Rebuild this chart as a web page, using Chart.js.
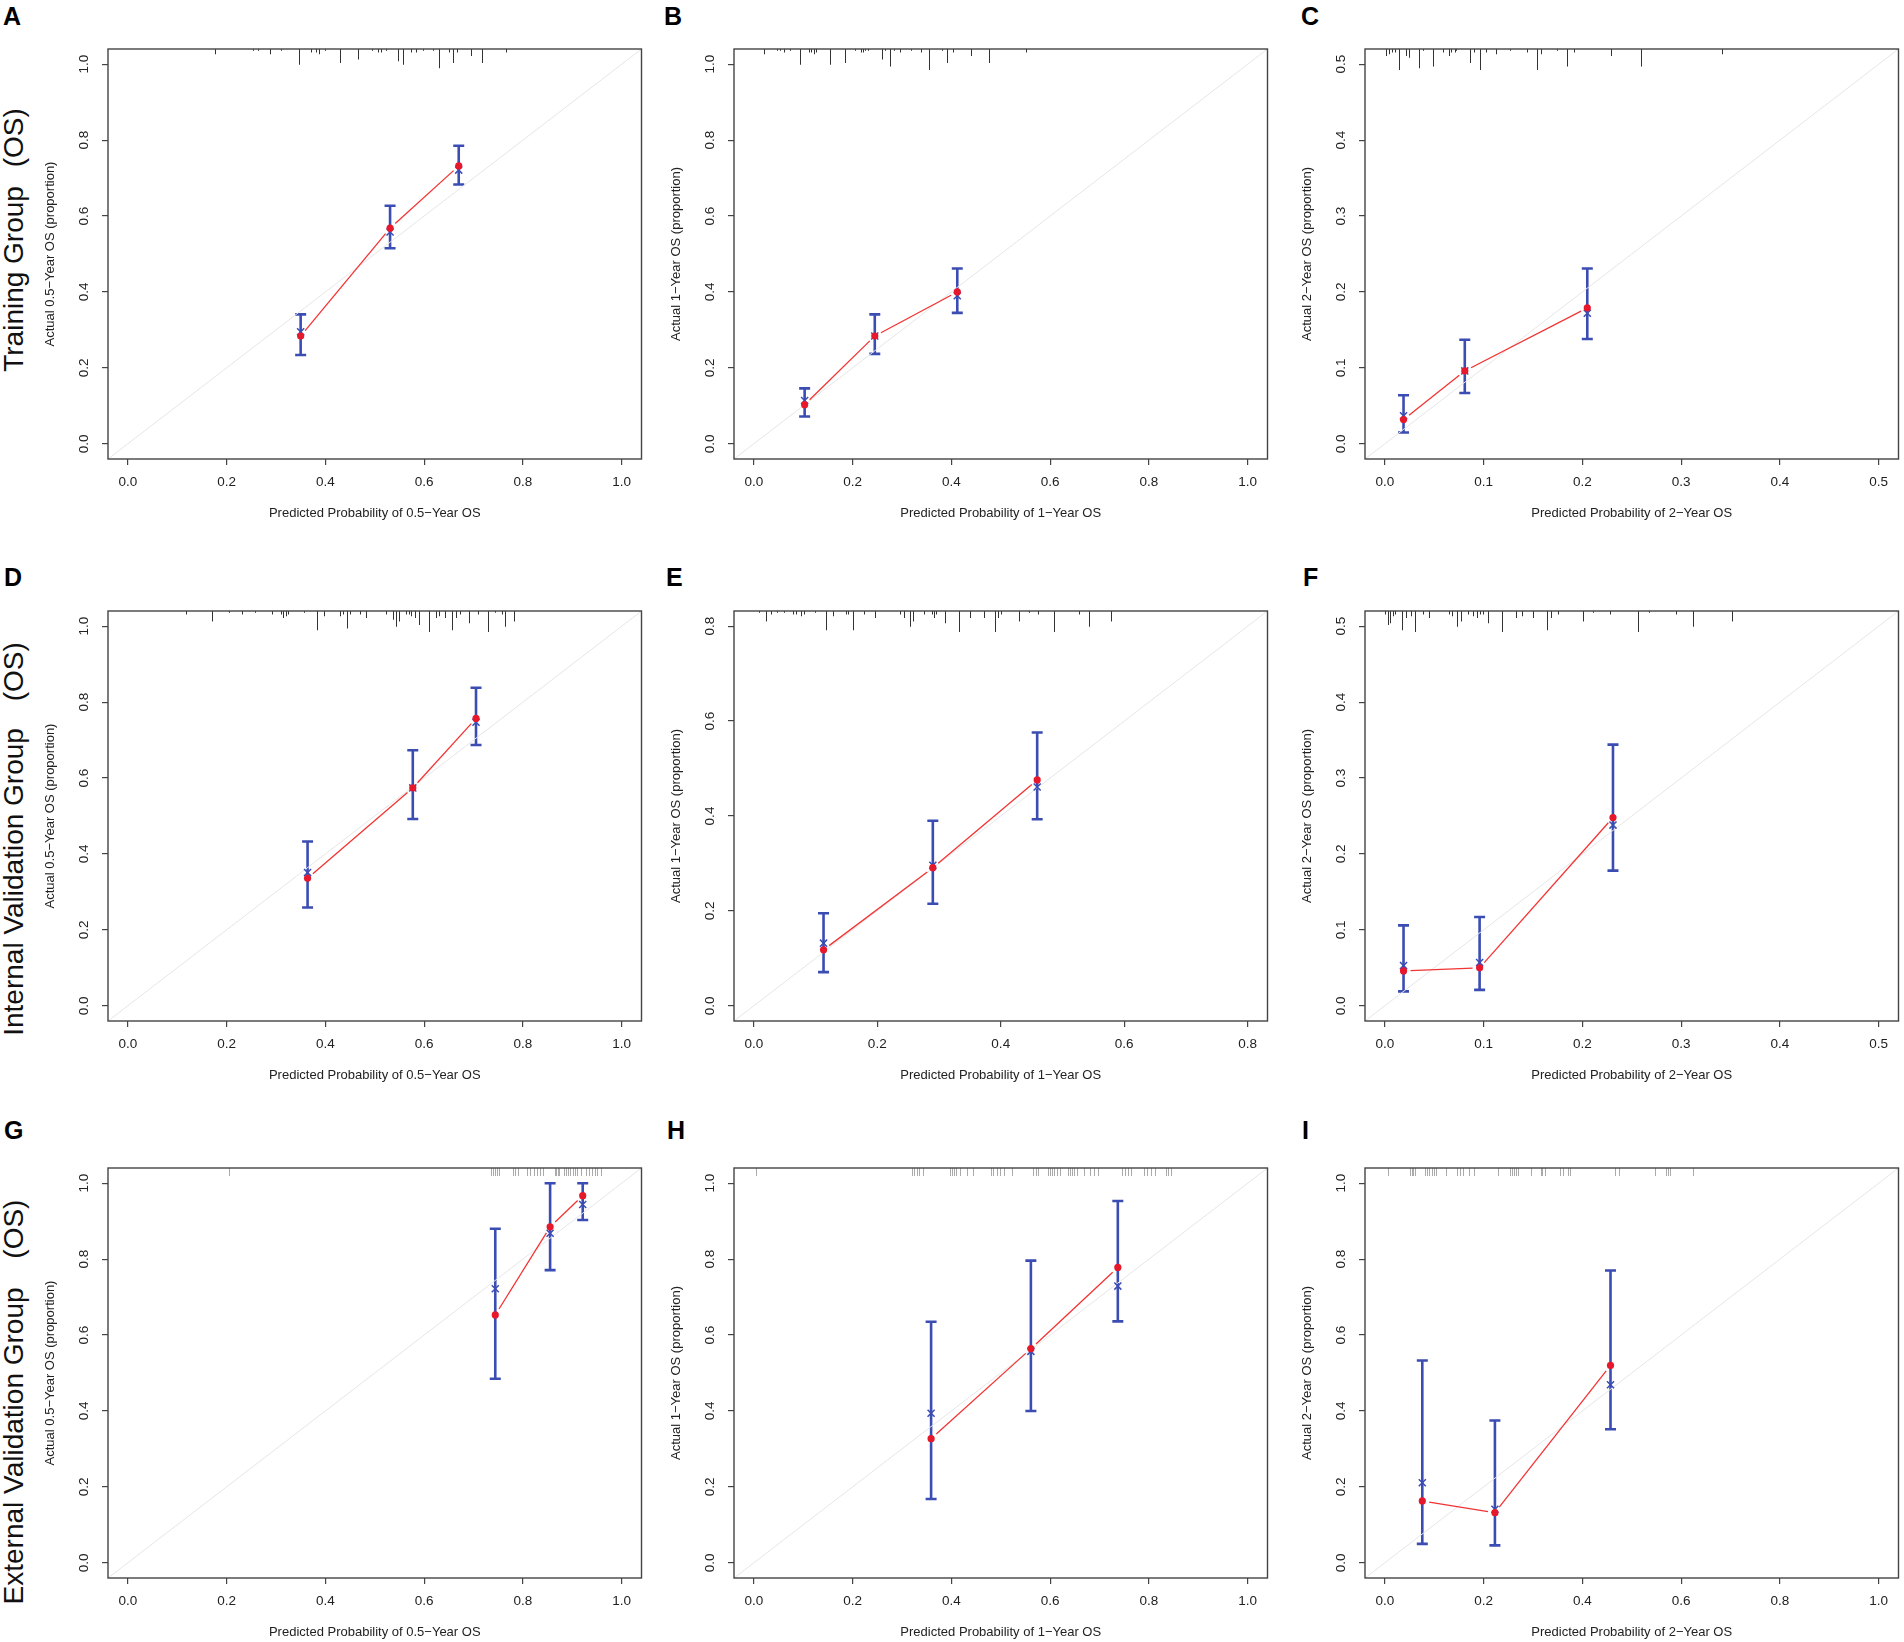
<!DOCTYPE html>
<html>
<head>
<meta charset="utf-8">
<script src="https://cdn.jsdelivr.net/npm/chart.js@4.4.1/dist/chart.umd.min.js"></script>
<style>
html, body { margin: 0; padding: 0; background: #fff; overflow: hidden; }
body { width: 1904px; height: 1642px; position: relative; font-family: "Liberation Sans", Arial, sans-serif; }
canvas { position: absolute; }
.letter { position: absolute; font-weight: bold; font-size: 25px; line-height: 25px; color: #000; }
.group { position: absolute; font-size: 28px; line-height: 28px; white-space: pre; color: #111;
         transform: translate(-50%, -50%) rotate(-90deg); }
</style>
</head>
<body>
<div class="letter" style="left:3px;top:4px">A</div>
<div class="letter" style="left:664px;top:4px">B</div>
<div class="letter" style="left:1301px;top:4px">C</div>
<div class="letter" style="left:4px;top:565px">D</div>
<div class="letter" style="left:666px;top:565px">E</div>
<div class="letter" style="left:1303px;top:565px">F</div>
<div class="letter" style="left:4px;top:1118px">G</div>
<div class="letter" style="left:667px;top:1118px">H</div>
<div class="letter" style="left:1302px;top:1118px">I</div>

<div class="group" style="left:14px;top:240px">Training Group <span style="margin-left:11px">(OS)</span></div>
<div class="group" style="left:14px;top:839px">Internal Validation Group <span style="margin-left:19px">(OS)</span></div>
<div class="group" style="left:14px;top:1402px">External Validation Group <span style="margin-left:21px">(OS)</span></div>

<script>
// tick labels
const ticks10 = [0, 0.2, 0.4, 0.6, 0.8, 1.0];
const ticks08 = [0, 0.2, 0.4, 0.6, 0.8];
const ticks05 = [0, 0.1, 0.2, 0.3, 0.4, 0.5];

const xTitles = ["Predicted Probability of 0.5\u2212Year OS", "Predicted Probability of 1\u2212Year OS", "Predicted Probability of 2\u2212Year OS"];
const yTitles = ["Actual 0.5\u2212Year OS (proportion)", "Actual 1\u2212Year OS (proportion)", "Actual 2\u2212Year OS (proportion)"];

// A: training, 0.5 year
const predA = [0.350, 0.531, 0.670];
const obsA = [0.284, 0.568, 0.732];
const corA = [0.295, 0.558, 0.721];
const loA = [0.234, 0.515, 0.683];
const hiA = [0.341, 0.627, 0.785];
const rugXA = [0.176, 0.253, 0.263, 0.288, 0.311, 0.347, 0.371, 0.381, 0.388, 0.399, 0.429, 0.466, 0.494, 0.507, 0.512,
  0.523, 0.547, 0.558, 0.573, 0.584, 0.598, 0.617, 0.630, 0.650, 0.659, 0.667, 0.694, 0.718, 0.766];
const rugNA = [3, 1, 1, 3, 1, 9, 2, 2, 3, 1, 8, 6, 1, 2, 2, 1, 7, 9, 2, 2, 1, 1, 11, 2, 8, 2, 4, 8, 2];

// B: training, 1 year
const predB = [0.103, 0.245, 0.412];
const obsB = [0.103, 0.284, 0.400];
const corB = [0.114, 0.284, 0.390];
const loB = [0.072, 0.237, 0.345];
const hiB = [0.146, 0.341, 0.462];
const rugXB = [0.021, 0.048, 0.053, 0.062, 0.074, 0.094, 0.111, 0.115, 0.121, 0.126, 0.154, 0.185, 0.205, 0.217, 0.221,
  0.226, 0.232, 0.259, 0.265, 0.276, 0.284, 0.296, 0.318, 0.338, 0.355, 0.382, 0.391, 0.403, 0.440, 0.477, 0.551];
const rugNB = [3, 1, 1, 2, 1, 9, 2, 2, 3, 2, 9, 8, 1, 2, 2, 1, 1, 6, 1, 10, 1, 2, 1, 2, 12, 1, 8, 2, 4, 8, 2];

// C: training, 2 year
const predC = [0.019, 0.081, 0.205];
const obsC = [0.032, 0.096, 0.179];
const corC = [0.037, 0.096, 0.172];
const loC = [0.015, 0.067, 0.138];
const hiC = [0.064, 0.137, 0.231];
const rugXC = [0.0016, 0.0044, 0.0072, 0.0108, 0.0144, 0.0216, 0.0248, 0.0348, 0.0388, 0.0484, 0.0592, 0.0647, 0.0675,
  0.0707, 0.0723, 0.0859, 0.0899, 0.0963, 0.1027, 0.1131, 0.1267, 0.1435, 0.1539, 0.1579, 0.1747, 0.1847, 0.1914,
  0.2290, 0.2594, 0.3417];
const rugNC = [4, 3, 2, 2, 12, 4, 5, 11, 1, 10, 2, 4, 2, 2, 1, 8, 2, 12, 2, 3, 1, 2, 12, 3, 1, 10, 2, 4, 10, 3];

// D: internal validation, 0.5 year
const predD = [0.364, 0.577, 0.705];
const obsD = [0.336, 0.574, 0.757];
const corD = [0.351, 0.574, 0.747];
const loD = [0.259, 0.492, 0.687];
const hiD = [0.433, 0.673, 0.838];
const rugXD = [0.118, 0.171, 0.205, 0.231, 0.258, 0.291, 0.310, 0.315, 0.320, 0.324, 0.357, 0.383, 0.397, 0.430, 0.435,
  0.443, 0.450, 0.471, 0.483, 0.523, 0.536, 0.543, 0.549, 0.563, 0.570, 0.574, 0.581, 0.590, 0.610, 0.624,
  0.631, 0.643, 0.656, 0.665, 0.672, 0.690, 0.710, 0.730, 0.743, 0.757, 0.763, 0.782];
const rugND = [2, 6, 1, 2, 1, 2, 2, 4, 3, 2, 1, 11, 3, 3, 2, 10, 2, 2, 4, 2, 5, 9, 6, 2, 2, 3, 4, 8, 12, 4,
  3, 4, 11, 4, 2, 7, 2, 12, 1, 2, 9, 6];

// E: internal validation, 1 year
const predE = [0.113, 0.290, 0.459];
const obsE = [0.118, 0.291, 0.476];
const corE = [0.132, 0.296, 0.461];
const loE = [0.071, 0.215, 0.393];
const hiE = [0.195, 0.390, 0.576];
const rugXE = [0.0085, 0.0197, 0.0275, 0.0374, 0.0485, 0.0643, 0.0682, 0.0761, 0.0813, 0.0984, 0.1167, 0.1279, 0.1495,
  0.1528, 0.1613, 0.1784, 0.1961, 0.2361, 0.2426, 0.2531, 0.2577, 0.2754, 0.2885, 0.2918, 0.2957, 0.3102, 0.3325,
  0.3495, 0.3725, 0.3902, 0.3948, 0.4000, 0.4302, 0.4459, 0.4597, 0.4866, 0.5266, 0.5436, 0.5784];
const rugNE = [1, 6, 2, 1, 1, 2, 2, 3, 2, 1, 11, 3, 2, 2, 11, 2, 4, 2, 4, 9, 6, 2, 2, 4, 2, 7, 12, 4, 4, 12,
  4, 2, 6, 1, 2, 12, 2, 9, 6];

// F: internal validation, 2 year
const predF = [0.019, 0.096, 0.231];
const obsF = [0.046, 0.050, 0.248];
const corF = [0.053, 0.057, 0.238];
const loF = [0.019, 0.021, 0.178];
const hiF = [0.106, 0.117, 0.344];
const rugXF = [0.0, 0.0028, 0.0052, 0.0080, 0.0104, 0.0172, 0.0212, 0.0264, 0.0308, 0.0384, 0.0452, 0.0647, 0.0683,
  0.0735, 0.0771, 0.0839, 0.0891, 0.0935, 0.0963, 0.0991, 0.1043, 0.1187, 0.1331, 0.1391, 0.1503, 0.1643, 0.1683,
  0.1755, 0.2002, 0.2106, 0.2278, 0.2562, 0.2674, 0.2946, 0.3125, 0.3513];
const rugNF = [2, 8, 7, 3, 2, 11, 4, 3, 12, 2, 4, 2, 3, 9, 6, 2, 3, 4, 2, 2, 7, 12, 4, 3, 4, 11, 4, 2, 6, 1,
  2, 12, 1, 2, 9, 6];

// G: external validation, 0.5 year
const predG = [0.744, 0.855, 0.921];
const obsG = [0.653, 0.885, 0.967];
const corG = [0.722, 0.868, 0.944];
const loG = [0.485, 0.771, 0.903];
const hiG = [0.880, 1.000, 1.000];
const rugXG = [0.205, 0.735, 0.739, 0.743, 0.748, 0.752, 0.779, 0.784, 0.790, 0.808, 0.815, 0.822, 0.828, 0.834, 0.841,
  0.864, 0.867, 0.871, 0.874, 0.883, 0.888, 0.892, 0.896, 0.901, 0.906, 0.910, 0.918, 0.928, 0.934, 0.940,
  0.945, 0.950, 0.959];

// H: external validation, 1 year
const predH = [0.359, 0.561, 0.737];
const obsH = [0.327, 0.564, 0.778];
const corH = [0.394, 0.557, 0.729];
const loH = [0.168, 0.400, 0.636];
const hiH = [0.635, 0.796, 0.953];
const rugXH = [0.004, 0.321, 0.325, 0.330, 0.334, 0.342, 0.398, 0.402, 0.406, 0.410, 0.417, 0.431, 0.444, 0.480, 0.484,
  0.492, 0.499, 0.506, 0.522, 0.566, 0.571, 0.575, 0.596, 0.600, 0.604, 0.608, 0.613, 0.619, 0.636, 0.641,
  0.645, 0.649, 0.655, 0.669, 0.680, 0.689, 0.697, 0.745, 0.751, 0.758, 0.764, 0.791, 0.797, 0.805, 0.813,
  0.834, 0.839, 0.844];

// I: external validation, 2 year
const predI = [0.076, 0.223, 0.457];
const obsI = [0.163, 0.132, 0.520];
const corI = [0.211, 0.141, 0.469];
const loI = [0.050, 0.046, 0.352];
const hiI = [0.533, 0.375, 0.770];
const rugXI = [0.006, 0.051, 0.055, 0.058, 0.062, 0.081, 0.085, 0.090, 0.095, 0.100, 0.104, 0.124, 0.146, 0.152, 0.159,
  0.170, 0.181, 0.230, 0.254, 0.258, 0.262, 0.266, 0.270, 0.296, 0.316, 0.319, 0.325, 0.355, 0.361, 0.371,
  0.376, 0.467, 0.475, 0.547, 0.569, 0.573, 0.577, 0.624];

// layout of the 3x3 grid (plot frame positions in page pixels)
const frameLeft = [108, 734, 1365];
const frameTop = [49, 611, 1168];
const FRAME_W = 534, FRAME_H = 410;
const PAD_L = 70, PAD_T = 10, PAD_R = 6, PAD_B = 80;
const LINE_GAP = 7; // R type="b": the line stops short of each point

const panels = [
  { pred: predA, obs: obsA, cor: corA, lo: loA, hi: hiA, rugX: rugXA, rugN: rugNA, xt: ticks10, yt: ticks10 },
  { pred: predB, obs: obsB, cor: corB, lo: loB, hi: hiB, rugX: rugXB, rugN: rugNB, xt: ticks10, yt: ticks10 },
  { pred: predC, obs: obsC, cor: corC, lo: loC, hi: hiC, rugX: rugXC, rugN: rugNC, xt: ticks05, yt: ticks05 },
  { pred: predD, obs: obsD, cor: corD, lo: loD, hi: hiD, rugX: rugXD, rugN: rugND, xt: ticks10, yt: ticks10 },
  { pred: predE, obs: obsE, cor: corE, lo: loE, hi: hiE, rugX: rugXE, rugN: rugNE, xt: ticks08, yt: ticks08 },
  { pred: predF, obs: obsF, cor: corF, lo: loF, hi: hiF, rugX: rugXF, rugN: rugNF, xt: ticks05, yt: ticks05 },
  { pred: predG, obs: obsG, cor: corG, lo: loG, hi: hiG, rugX: rugXG, rugN: null, xt: ticks10, yt: ticks10 },
  { pred: predH, obs: obsH, cor: corH, lo: loH, hi: hiH, rugX: rugXH, rugN: null, xt: ticks10, yt: ticks10 },
  { pred: predI, obs: obsI, cor: corI, lo: loI, hi: hiI, rugX: rugXI, rugN: null, xt: ticks10, yt: ticks10 }
];

Chart.defaults.font.family = '"Liberation Sans", Arial, sans-serif';
Chart.defaults.color = "#222";

const BLUE = "#3b4db3";
const RED = "#f23333";

// R-style extent: 4% beyond the data range
function limits(ticks) {
  const top = ticks[ticks.length - 1];
  return [-0.04 * top, 1.04 * top];
}

function makePanel(p, idx) {
  const col = idx % 3, row = Math.floor(idx / 3);
  const canvas = document.createElement("canvas");
  canvas.width = PAD_L + FRAME_W + PAD_R;
  canvas.height = PAD_T + FRAME_H + PAD_B;
  canvas.style.left = (frameLeft[col] - PAD_L) + "px";
  canvas.style.top = (frameTop[row] - PAD_T) + "px";
  document.body.appendChild(canvas);

  const [xMin, xMax] = limits(p.xt);
  const [yMin, yMax] = limits(p.yt);

  // frame, rug and error bars
  const calPlugin = {
    id: "cal" + idx,
    beforeDatasetsDraw(chart) {
      const { ctx, chartArea: a, scales: { x, y } } = chart;
      ctx.save();
      // error bars
      ctx.strokeStyle = BLUE;
      ctx.lineWidth = 2.6;
      p.pred.forEach((v, i) => {
        const px = x.getPixelForValue(v);
        const y1 = y.getPixelForValue(p.lo[i]);
        const y2 = y.getPixelForValue(p.hi[i]);
        ctx.beginPath();
        ctx.moveTo(px, y1); ctx.lineTo(px, y2);
        ctx.moveTo(px - 5.5, y1); ctx.lineTo(px + 5.5, y1);
        ctx.moveTo(px - 5.5, y2); ctx.lineTo(px + 5.5, y2);
        ctx.stroke();
      });
      // rug along the top
      ctx.lineWidth = 1;
      ctx.strokeStyle = p.rugN ? "#333" : "#aaaaaa";
      p.rugX.forEach((v, i) => {
        const px = Math.round(x.getPixelForValue(v)) + 0.5;
        const len = p.rugN ? p.rugN[i] * 1.75 : 8;
        ctx.beginPath();
        ctx.moveTo(px, a.top);
        ctx.lineTo(px, a.top + len);
        ctx.stroke();
      });
      ctx.restore();
    },
    afterDraw(chart) {
      const { ctx, chartArea: a } = chart;
      ctx.save();
      ctx.strokeStyle = "#444";
      ctx.lineWidth = 1.4;
      ctx.strokeRect(a.left, a.top, a.right - a.left, a.bottom - a.top);
      ctx.restore();
    }
  };

  new Chart(canvas, {
    type: "scatter",
    data: {
      datasets: [
        {
          type: "line",
          data: p.obs.map((v, i) => ({ x: p.pred[i], y: v })),
          borderColor: RED,
          borderWidth: 1.3,
          pointRadius: 3.6,
          pointBackgroundColor: "#e8182c",
          pointBorderWidth: 0,
          segment: {
            borderDash: c => {
              const len = Math.hypot(c.p1.x - c.p0.x, c.p1.y - c.p0.y);
              return [0, LINE_GAP, Math.max(len - 2 * LINE_GAP, 0), LINE_GAP + 2000];
            }
          },
          order: 1
        },
        {
          data: p.cor.map((v, i) => ({ x: p.pred[i], y: v })),
          pointStyle: "crossRot",
          pointRadius: 5,
          pointBorderColor: BLUE,
          pointBorderWidth: 1.5,
          order: 2
        },
        {
          type: "line",
          data: [{ x: Math.min(xMin, yMin), y: Math.min(xMin, yMin) }, { x: Math.max(xMax, yMax), y: Math.max(xMax, yMax) }],
          borderColor: "#e6e6e6",
          borderWidth: 1,
          pointRadius: 0,
          order: 3
        }
      ]
    },
    options: {
      responsive: false,
      animation: false,
      events: [],
      layout: { padding: { left: 0, top: PAD_T, right: PAD_R, bottom: 10 } },
      plugins: { legend: { display: false }, tooltip: { enabled: false } },
      scales: {
        x: {
          type: "linear",
          min: xMin,
          max: xMax,
          afterBuildTicks: s => { s.ticks = p.xt.map(v => ({ value: v })); },
          afterFit: s => { s.height = PAD_B - 10; s.paddingLeft = 0; s.paddingRight = 0; },
          grid: { drawOnChartArea: false, drawTicks: true, tickLength: 6, color: "#444", lineWidth: 1.2 },
          border: { display: false },
          ticks: { font: { size: 13.5 }, color: "#222", padding: 9, maxRotation: 0, callback: v => v.toFixed(1) },
          title: { display: true, text: xTitles[col], font: { size: 13 }, color: "#222", padding: { top: 0, bottom: 8 } }
        },
        y: {
          type: "linear",
          min: yMin,
          max: yMax,
          afterBuildTicks: s => { s.ticks = p.yt.map(v => ({ value: v })); },
          afterFit: s => { s.width = PAD_L; s.paddingTop = 0; s.paddingBottom = 0; },
          grid: { drawOnChartArea: false, drawTicks: true, tickLength: 6, color: "#444", lineWidth: 1.2 },
          border: { display: false },
          ticks: { font: { size: 13.5 }, color: "#222", padding: 8, minRotation: 90, maxRotation: 90,
                   crossAlign: "center", callback: v => v.toFixed(1) },
          title: { display: true, text: yTitles[col], font: { size: 13 }, color: "#222", padding: { top: 5, bottom: 0 } }
        }
      }
    },
    plugins: [calPlugin]
  });
}

panels.forEach(makePanel);
</script>
</body>
</html>
